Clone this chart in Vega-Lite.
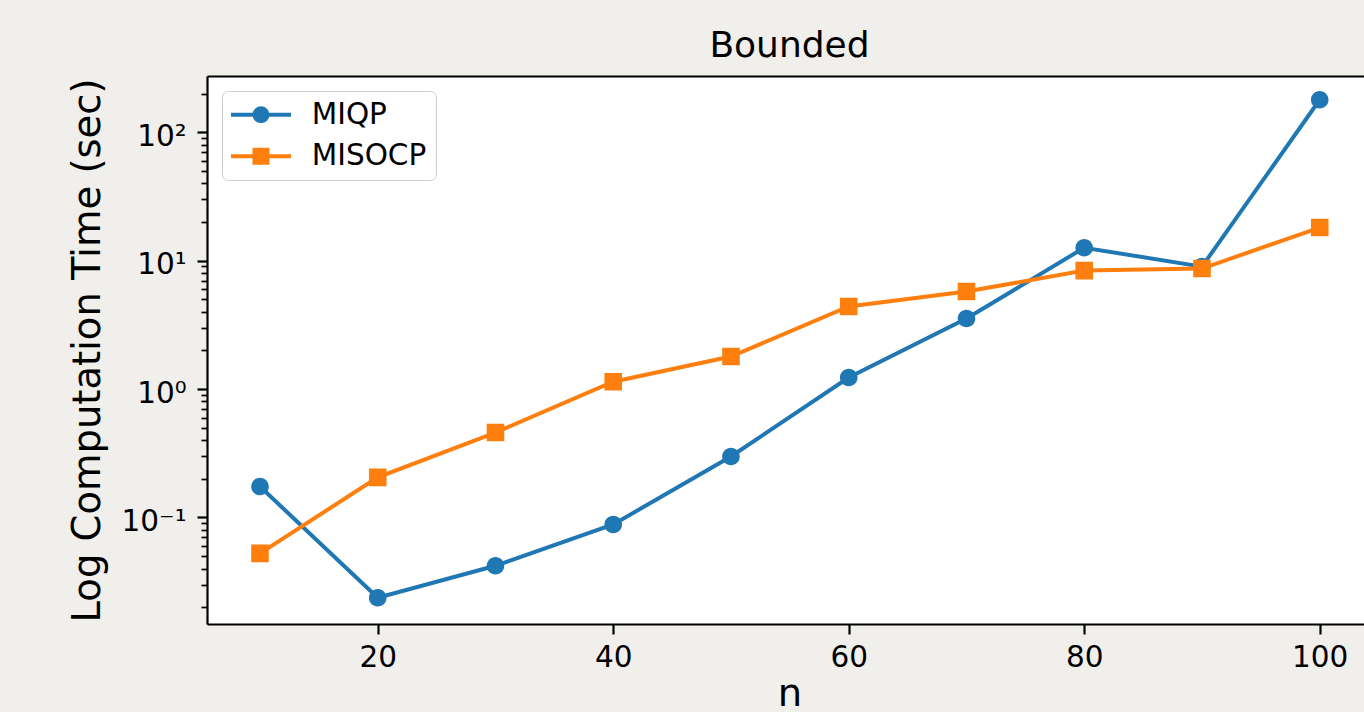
{
  "$schema": "https://vega.github.io/schema/vega-lite/v6.json",
  "autosize": {"type": "none"},
  "width": 1157,
  "height": 548,
  "padding": {"left": 207, "top": 76, "right": 0, "bottom": 88},
  "background": "#f0efeb",
  "config": {
    "view": {"stroke": null, "fill": "#ffffff"},
    "font": "DejaVu Sans",
    "axis": {
      "labelFont": "DejaVu Sans",
      "titleFont": "DejaVu Sans",
      "labelColor": "#000000",
      "titleColor": "#000000",
      "tickColor": "#000000",
      "domainColor": "#000000",
      "titleFontWeight": "normal",
      "grid": false,
      "labelBound": false,
      "labelFlush": false,
      "labelOverlap": false
    },
    "legend": {
      "orient": "top-left",
      "offset": 15,
      "padding": 9,
      "fillColor": "#ffffff",
      "strokeColor": "#cccccc",
      "cornerRadius": 6,
      "labelFont": "DejaVu Sans",
      "labelFontSize": 29.5,
      "labelColor": "#000000",
      "symbolSize": 289,
      "symbolStrokeWidth": 4,
      "symbolOpacity": 1,
      "symbolOffset": 15.25,
      "labelOffset": 36,
      "rowPadding": 10.5
    }
  },
  "title": {
    "text": "Bounded",
    "font": "DejaVu Sans",
    "fontSize": 36,
    "fontWeight": "normal",
    "color": "#000000",
    "anchor": "middle",
    "baseline": "alphabetic",
    "offset": -17,
    "dx": 4
  },
  "data": {
    "values": [
      {"n": 10, "series": "MIQP", "time": 0.174},
      {"n": 20, "series": "MIQP", "time": 0.0237},
      {"n": 30, "series": "MIQP", "time": 0.042},
      {"n": 40, "series": "MIQP", "time": 0.0882},
      {"n": 50, "series": "MIQP", "time": 0.298},
      {"n": 60, "series": "MIQP", "time": 1.23},
      {"n": 70, "series": "MIQP", "time": 3.54},
      {"n": 80, "series": "MIQP", "time": 12.6},
      {"n": 90, "series": "MIQP", "time": 8.98},
      {"n": 100, "series": "MIQP", "time": 179},
      {"n": 10, "series": "MISOCP", "time": 0.0525},
      {"n": 20, "series": "MISOCP", "time": 0.205},
      {"n": 30, "series": "MISOCP", "time": 0.458},
      {"n": 40, "series": "MISOCP", "time": 1.14},
      {"n": 50, "series": "MISOCP", "time": 1.79},
      {"n": 60, "series": "MISOCP", "time": 4.39},
      {"n": 70, "series": "MISOCP", "time": 5.74},
      {"n": 80, "series": "MISOCP", "time": 8.36},
      {"n": 90, "series": "MISOCP", "time": 8.67},
      {"n": 100, "series": "MISOCP", "time": 18.1}
    ]
  },
  "resolve": {"axis": {"x": "independent", "y": "independent"}},
  "layer": [
    {
      "mark": {"type": "line", "strokeWidth": 4, "clip": true},
      "encoding": {
        "x": {
          "field": "n",
          "type": "quantitative",
          "scale": {"domain": [5.5, 103.76], "nice": false, "zero": false},
          "axis": {
            "orient": "bottom",
            "title": "n",
            "titleFontSize": 38.5,
            "titlePadding": 4,
            "titleX": 582.5,
            "values": [20, 40, 60, 80, 100],
            "labelFontSize": 29.5,
            "labelPadding": 9,
            "tickSize": 10,
            "tickWidth": 2.2,
            "domainWidth": 2.2
          }
        },
        "y": {
          "field": "time",
          "type": "quantitative",
          "scale": {"type": "log", "domain": [0.01479, 274], "nice": false, "zero": false},
          "axis": {
            "orient": "left",
            "title": "Log Computation Time (sec)",
            "titleFontSize": 38.5,
            "titlePadding": 14,
            "values": [0.1, 1, 10, 100],
            "labelExpr": "datum.value == 100 ? '10²' : datum.value == 10 ? '10¹' : datum.value == 1 ? '10⁰' : '10⁻¹'",
            "labelFontSize": 29.5,
            "labelPadding": 11,
            "labelOffset": 4,
            "tickSize": 10,
            "tickWidth": 2.2,
            "domainWidth": 2.2
          }
        },
        "color": {
          "field": "series",
          "type": "nominal",
          "title": null,
          "scale": {"domain": ["MIQP", "MISOCP"], "range": ["#1f77b4", "#ff7f0e"]}
        }
      }
    },
    {
      "mark": {"type": "point", "filled": true, "opacity": 1, "size": 529, "strokeWidth": 0, "clip": true},
      "encoding": {
        "x": {
          "field": "n",
          "type": "quantitative",
          "axis": {
            "orient": "top",
            "title": null,
            "labels": false,
            "ticks": false,
            "domain": true,
            "domainWidth": 2.2
          }
        },
        "y": {
          "field": "time",
          "type": "quantitative",
          "axis": {
            "orient": "left",
            "title": null,
            "labels": false,
            "domain": false,
            "values": [0.02, 0.03, 0.04, 0.05, 0.06, 0.07, 0.08, 0.09, 0.2, 0.3, 0.4, 0.5, 0.6, 0.7, 0.8, 0.9, 2, 3, 4, 5, 6, 7, 8, 9, 20, 30, 40, 50, 60, 70, 80, 90, 200],
            "tickSize": 6,
            "tickWidth": 1.7
          }
        },
        "color": {
          "field": "series",
          "type": "nominal",
          "title": null
        },
        "shape": {
          "field": "series",
          "type": "nominal",
          "title": null,
          "scale": {
            "domain": ["MIQP", "MISOCP"],
            "range": [
              "M-3.53,0L3.53,0M0.765,0A0.765,0.765,0,1,1,-0.765,0A0.765,0.765,0,1,1,0.765,0Z",
              "M-3.53,0L3.53,0M-0.765,-0.765L0.765,-0.765L0.765,0.765L-0.765,0.765Z"
            ]
          }
        }
      }
    }
  ]
}
